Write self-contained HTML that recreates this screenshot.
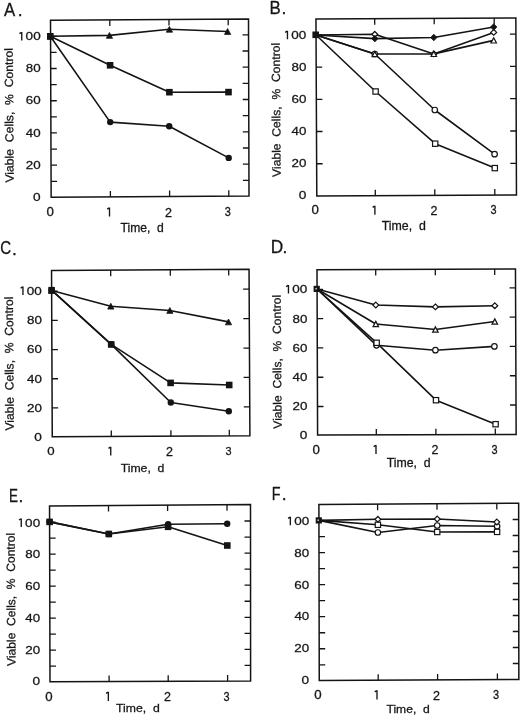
<!DOCTYPE html>
<html><head><meta charset="utf-8"><title>Figure</title><style>
html,body{margin:0;padding:0;background:#fff;}
body{width:520px;height:715px;overflow:hidden;}
svg{display:block;will-change:transform;}
text{font-family:"Liberation Sans", sans-serif;fill:#161616;stroke:#161616;stroke-width:0.28px;}
.pl{font-size:17.5px;}
.tk{font-size:12.2px;}
.ti{font-size:12.0px;}
.yt{font-size:12.2px;}
</style></head><body>
<svg width="520" height="715" viewBox="0 0 520 715">
<rect width="520" height="715" fill="#fff"/>
<g><path d="M50.5 20.3L248.5 19L249 196L51.15 197.25Z" fill="none" stroke="#141414" stroke-width="1.5" stroke-linejoin="miter"/><path d="M51.091 181.29h6M51.032 165.18h6M50.973 149.07h6M50.914 132.96h6M50.855 116.85h6M50.795 100.74h6M50.736 84.63h6M50.677 68.52h6M50.618 52.41h6M50.559 36.3h6M248.956 180.333h-6M248.91 164.166h-6M248.864 147.999h-6M248.819 131.832h-6M248.773 115.665h-6M248.727 99.498h-6M248.682 83.331h-6M248.636 67.164h-6M248.59 50.997h-6M248.545 34.83h-6M110.4 196.876v-6M109.8 19.911v6M169.6 196.502v-6M169 19.522v6M228.8 196.128v-6M228.2 19.133v6" stroke="#141414" stroke-width="1.3" fill="none"/><path d="M50.3 36.3L109.45 35.4L169.4 29.3L227.6 31.5" stroke="#141414" stroke-width="1.6" fill="none" stroke-linejoin="round"/><path d="M50.3 36.3L110.2 122.1L169.2 126.2L228.7 157.9" stroke="#141414" stroke-width="1.6" fill="none" stroke-linejoin="round"/><path d="M50.3 36.3L110.1 65.3L169.4 92.2L228.5 92.1" stroke="#141414" stroke-width="1.6" fill="none" stroke-linejoin="round"/><path d="M50.3 33.4L53.4 39.2L47.2 39.2Z" fill="#141414" stroke="#141414" stroke-width="0.8" stroke-linejoin="round"/><path d="M109.45 32.5L112.55 38.3L106.35 38.3Z" fill="#141414" stroke="#141414" stroke-width="0.8" stroke-linejoin="round"/><path d="M169.4 26.4L172.5 32.2L166.3 32.2Z" fill="#141414" stroke="#141414" stroke-width="0.8" stroke-linejoin="round"/><path d="M227.6 28.6L230.7 34.4L224.5 34.4Z" fill="#141414" stroke="#141414" stroke-width="0.8" stroke-linejoin="round"/><circle cx="50.3" cy="36.3" r="3.2" fill="#141414"/><circle cx="110.2" cy="122.1" r="3.2" fill="#141414"/><circle cx="169.2" cy="126.2" r="3.2" fill="#141414"/><circle cx="228.7" cy="157.9" r="3.2" fill="#141414"/><rect x="47" y="33" width="6.6" height="6.6" fill="#141414"/><rect x="106.8" y="62" width="6.6" height="6.6" fill="#141414"/><rect x="166.1" y="88.9" width="6.6" height="6.6" fill="#141414"/><rect x="225.2" y="88.8" width="6.6" height="6.6" fill="#141414"/><text transform="matrix(0.962 0 0 1.02 4 15.7)" class="pl">A</text><text x="17.7" y="15.7" class="pl">.</text><text transform="matrix(1.12 0 0 0.956 33.02 200.661)" class="tk">0</text><text transform="matrix(1.098 0 0 0.956 25.751 168.601)" class="tk">20</text><text transform="matrix(1.092 0 0 0.956 25.827 136.541)" class="tk">40</text><text transform="matrix(1.098 0 0 0.956 25.751 104.481)" class="tk">60</text><text transform="matrix(1.098 0 0 0.956 25.751 72.421)" class="tk">80</text><path d="M21.75 32.1V40.6M21.55 32.45L19.45 33.7" stroke="#161616" stroke-width="1.35" fill="none" stroke-linecap="butt"/><text transform="matrix(1.108 0 0 0.956 25.623 40.361)" class="tk">00</text><text transform="matrix(1.088 0 0 0.978 46.428 216.256)" class="tk">0</text><path d="M109.5 207.6V216.5M109.3 207.95L107.2 209.2" stroke="#161616" stroke-width="1.35" fill="none" stroke-linecap="butt"/><text transform="matrix(1.026 0 0 1.006 165.087 216.5)" class="tk">2</text><text transform="matrix(0.896 0 0 0.978 224.826 216.256)" class="tk">3</text><text transform="matrix(1.01 0 0 0.994 120.548 231.8)" class="ti">Time,&#160; d</text><g transform="rotate(-0.38 8.875 115.7)"><text transform="matrix(0 -0.999 0.972 0 13.25 115.325)" class="yt" text-anchor="middle">Viable&#160; Cells,&#160; %&#160; Control</text></g></g>
<g><path d="M315.96 18.96L515.85 17.9L516.46 195L316.8 195.9Z" fill="none" stroke="#141414" stroke-width="1.5" stroke-linejoin="miter"/><path d="M316.647 163.76h6M316.494 131.52h6M316.341 99.28h6M316.188 67.04h6M316.035 34.8h6M516.351 163.3h-6M516.24 131h-6M516.128 98.7h-6M516.017 66.4h-6M515.906 34.1h-6M375.3 195.636v-6M374.7 18.649v6M434.8 195.368v-6M434.2 18.333v6M494.8 195.098v-6M494.2 18.015v6" stroke="#141414" stroke-width="1.3" fill="none"/><path d="M316 35L375.6 91.5L435.2 143.7L494.8 168.1" stroke="#141414" stroke-width="1.6" fill="none" stroke-linejoin="round"/><path d="M316 35L374.8 54L434.8 110L494.6 154.2" stroke="#141414" stroke-width="1.6" fill="none" stroke-linejoin="round"/><path d="M316 35L374.8 34.3L433.8 53.9L493.7 32.4" stroke="#141414" stroke-width="1.6" fill="none" stroke-linejoin="round"/><path d="M316 35L374.8 54L433.8 53.9L493.7 40.4" stroke="#141414" stroke-width="1.6" fill="none" stroke-linejoin="round"/><path d="M316 35L374.8 38.6L433.8 37.5L493.7 27" stroke="#141414" stroke-width="1.6" fill="none" stroke-linejoin="round"/><rect x="372.95" y="88.85" width="5.3" height="5.3" fill="#fff" stroke="#141414" stroke-width="1.2"/><rect x="432.55" y="141.05" width="5.3" height="5.3" fill="#fff" stroke="#141414" stroke-width="1.2"/><rect x="492.15" y="165.45" width="5.3" height="5.3" fill="#fff" stroke="#141414" stroke-width="1.2"/><circle cx="374.8" cy="54" r="2.75" fill="#fff" stroke="#141414" stroke-width="1.2"/><circle cx="434.8" cy="110" r="2.75" fill="#fff" stroke="#141414" stroke-width="1.2"/><circle cx="494.6" cy="154.2" r="2.75" fill="#fff" stroke="#141414" stroke-width="1.2"/><path d="M374.8 31.45L377.75 34.3L374.8 37.15L371.85 34.3Z" fill="#fff" stroke="#141414" stroke-width="1.2"/><path d="M433.8 51.05L436.75 53.9L433.8 56.75L430.85 53.9Z" fill="#fff" stroke="#141414" stroke-width="1.2"/><path d="M493.7 29.55L496.65 32.4L493.7 35.25L490.75 32.4Z" fill="#fff" stroke="#141414" stroke-width="1.2"/><path d="M374.8 51.4L377.55 56.6L372.05 56.6Z" fill="#fff" stroke="#141414" stroke-width="1.2"/><path d="M433.8 51.3L436.55 56.5L431.05 56.5Z" fill="#fff" stroke="#141414" stroke-width="1.2"/><path d="M493.7 37.8L496.45 43L490.95 43Z" fill="#fff" stroke="#141414" stroke-width="1.2"/><path d="M374.8 35.3L378 38.6L374.8 41.9L371.6 38.6Z" fill="#141414" stroke="#141414" stroke-width="0.8"/><path d="M433.8 34.2L437 37.5L433.8 40.8L430.6 37.5Z" fill="#141414" stroke="#141414" stroke-width="0.8"/><path d="M493.7 23.7L496.9 27L493.7 30.3L490.5 27Z" fill="#141414" stroke="#141414" stroke-width="0.8"/><rect x="312.4" y="31.5" width="6.6" height="6.6" fill="#141414"/><text transform="matrix(0.964 0 0 1.02 269.595 13.7)" class="pl">B</text><text x="281.45" y="13.7" class="pl">.</text><text transform="matrix(1.12 0 0 0.956 298.72 199.061)" class="tk">0</text><text transform="matrix(1.098 0 0 0.956 291.451 167.061)" class="tk">20</text><text transform="matrix(1.092 0 0 0.956 291.527 135.061)" class="tk">40</text><text transform="matrix(1.098 0 0 0.956 291.451 103.061)" class="tk">60</text><text transform="matrix(1.098 0 0 0.956 291.451 71.061)" class="tk">80</text><path d="M287.45 30.8V39.3M287.25 31.15L285.15 32.4" stroke="#161616" stroke-width="1.35" fill="none" stroke-linecap="butt"/><text transform="matrix(1.108 0 0 0.956 291.323 39.061)" class="tk">00</text><text transform="matrix(1.088 0 0 0.978 311.528 214.456)" class="tk">0</text><path d="M374.9 205.8V214.7M374.7 206.15L372.6 207.4" stroke="#161616" stroke-width="1.35" fill="none" stroke-linecap="butt"/><text transform="matrix(1.026 0 0 1.006 430.437 214.7)" class="tk">2</text><text transform="matrix(0.896 0 0 0.978 490.476 214.456)" class="tk">3</text><text transform="matrix(1.03 0 0 1.006 381.743 229.6)" class="ti">Time,&#160; d</text><g transform="rotate(-0.38 275.875 110.3)"><text transform="matrix(0 -0.996 0.972 0 280.25 109.927)" class="yt" text-anchor="middle">Viable&#160; Cells,&#160; %&#160; Control</text></g></g>
<g><path d="M51.54 270.6L249.04 269.3L249.9 435.7L52.26 436.8Z" fill="none" stroke="#141414" stroke-width="1.5" stroke-linejoin="miter"/><path d="M52.135 407.91h6M52.009 378.75h6M51.882 349.59h6M51.756 320.43h6M51.63 291.27h6M249.751 406.88h-6M249.599 377.46h-6M249.447 348.04h-6M249.295 318.62h-6M249.143 289.2h-6M111.3 436.471v-6M110.7 270.211v6M170.9 436.14v-6M170.3 269.818v6M229.3 435.815v-6M228.7 269.434v6" stroke="#141414" stroke-width="1.3" fill="none"/><path d="M51.6 290.5L110.8 306.2L169.85 310.45L228.5 321.9" stroke="#141414" stroke-width="1.6" fill="none" stroke-linejoin="round"/><path d="M51.6 290.2L111.2 344.4L170.8 402.5L228.8 411.3" stroke="#141414" stroke-width="1.6" fill="none" stroke-linejoin="round"/><path d="M51.6 290.2L111.2 344.4L170.6 382.9L229.2 385" stroke="#141414" stroke-width="1.6" fill="none" stroke-linejoin="round"/><path d="M51.6 287.6L54.7 293.4L48.5 293.4Z" fill="#141414" stroke="#141414" stroke-width="0.8" stroke-linejoin="round"/><path d="M110.8 303.3L113.9 309.1L107.7 309.1Z" fill="#141414" stroke="#141414" stroke-width="0.8" stroke-linejoin="round"/><path d="M169.85 307.55L172.95 313.35L166.75 313.35Z" fill="#141414" stroke="#141414" stroke-width="0.8" stroke-linejoin="round"/><path d="M228.5 319L231.6 324.8L225.4 324.8Z" fill="#141414" stroke="#141414" stroke-width="0.8" stroke-linejoin="round"/><circle cx="51.6" cy="290.2" r="3.2" fill="#141414"/><circle cx="111.2" cy="344.4" r="3.2" fill="#141414"/><circle cx="170.8" cy="402.5" r="3.2" fill="#141414"/><circle cx="228.8" cy="411.3" r="3.2" fill="#141414"/><rect x="48.3" y="286.9" width="6.6" height="6.6" fill="#141414"/><rect x="107.9" y="341.1" width="6.6" height="6.6" fill="#141414"/><rect x="167.3" y="379.6" width="6.6" height="6.6" fill="#141414"/><rect x="225.9" y="381.7" width="6.6" height="6.6" fill="#141414"/><text transform="matrix(0.862 0 0 1.08 0.353 254.43)" class="pl">C</text><text x="11.95" y="254.7" class="pl">.</text><text transform="matrix(1.12 0 0 0.956 34.22 441.061)" class="tk">0</text><text transform="matrix(1.098 0 0 0.956 26.951 411.791)" class="tk">20</text><text transform="matrix(1.092 0 0 0.956 27.027 382.521)" class="tk">40</text><text transform="matrix(1.098 0 0 0.956 26.951 353.251)" class="tk">60</text><text transform="matrix(1.098 0 0 0.956 26.951 323.981)" class="tk">80</text><path d="M22.95 286.45V294.95M22.75 286.8L20.65 288.05" stroke="#161616" stroke-width="1.35" fill="none" stroke-linecap="butt"/><text transform="matrix(1.108 0 0 0.956 26.823 294.711)" class="tk">00</text><text transform="matrix(1.088 0 0 0.967 47.328 455.258)" class="tk">0</text><path d="M110.75 446.7V455.5M110.55 447.05L108.45 448.3" stroke="#161616" stroke-width="1.35" fill="none" stroke-linecap="butt"/><text transform="matrix(1.026 0 0 0.994 166.037 455.5)" class="tk">2</text><text transform="matrix(0.896 0 0 0.967 225.476 455.258)" class="tk">3</text><text transform="matrix(1.021 0 0 0.96 120.645 472)" class="ti">Time,&#160; d</text><g transform="rotate(-0.38 8.95 363.95)"><text transform="matrix(0 -0.995 0.989 0 13.4 363.577)" class="yt" text-anchor="middle">Viable&#160; Cells,&#160; %&#160; Control</text></g></g>
<g><path d="M317 269.8L515.46 269.04L516.15 434.4L317.6 435.1Z" fill="none" stroke="#141414" stroke-width="1.5" stroke-linejoin="miter"/><path d="M317.496 406.504h6M317.39 377.238h6M317.284 347.972h6M317.178 318.706h6M317.071 289.44h6M516.027 405.02h-6M515.905 375.74h-6M515.783 346.46h-6M515.661 317.18h-6M515.539 287.9h-6M376.3 434.893v-6M375.7 269.575v6M435.9 434.683v-6M435.3 269.347v6M495.3 434.474v-6M494.7 269.12v6" stroke="#141414" stroke-width="1.3" fill="none"/><path d="M317 289L376.5 345.3L435.4 350.2L494.4 346.4" stroke="#141414" stroke-width="1.6" fill="none" stroke-linejoin="round"/><path d="M317 289L376.65 342.8L436 400.2L495.6 424.2" stroke="#141414" stroke-width="1.6" fill="none" stroke-linejoin="round"/><path d="M317 289L375.8 324L435.4 329.5L494.8 321.5" stroke="#141414" stroke-width="1.6" fill="none" stroke-linejoin="round"/><path d="M317 289L375.8 305L435.4 306.9L494.8 305.7" stroke="#141414" stroke-width="1.6" fill="none" stroke-linejoin="round"/><circle cx="376.5" cy="345.3" r="2.75" fill="#fff" stroke="#141414" stroke-width="1.2"/><circle cx="435.4" cy="350.2" r="2.75" fill="#fff" stroke="#141414" stroke-width="1.2"/><circle cx="494.4" cy="346.4" r="2.75" fill="#fff" stroke="#141414" stroke-width="1.2"/><rect x="374" y="340.15" width="5.3" height="5.3" fill="#fff" stroke="#141414" stroke-width="1.2"/><rect x="433.35" y="397.55" width="5.3" height="5.3" fill="#fff" stroke="#141414" stroke-width="1.2"/><rect x="492.95" y="421.55" width="5.3" height="5.3" fill="#fff" stroke="#141414" stroke-width="1.2"/><path d="M375.8 321.4L378.55 326.6L373.05 326.6Z" fill="#fff" stroke="#141414" stroke-width="1.2"/><path d="M435.4 326.9L438.15 332.1L432.65 332.1Z" fill="#fff" stroke="#141414" stroke-width="1.2"/><path d="M494.8 318.9L497.55 324.1L492.05 324.1Z" fill="#fff" stroke="#141414" stroke-width="1.2"/><path d="M375.8 302.15L378.75 305L375.8 307.85L372.85 305Z" fill="#fff" stroke="#141414" stroke-width="1.2"/><path d="M435.4 304.05L438.35 306.9L435.4 309.75L432.45 306.9Z" fill="#fff" stroke="#141414" stroke-width="1.2"/><path d="M494.8 302.85L497.75 305.7L494.8 308.55L491.85 305.7Z" fill="#fff" stroke="#141414" stroke-width="1.2"/><rect x="313.6" y="285.8" width="6.2" height="6.2" fill="#141414"/><circle cx="316.1" cy="288.7" r="0.9" fill="#bbb"/><text transform="matrix(0.986 0 0 1.053 270.767 252.8)" class="pl">D</text><text x="282.55" y="252.8" class="pl">.</text><text transform="matrix(1.12 0 0 0.956 299.72 439.461)" class="tk">0</text><text transform="matrix(1.098 0 0 0.956 292.451 410.221)" class="tk">20</text><text transform="matrix(1.092 0 0 0.956 292.527 380.981)" class="tk">40</text><text transform="matrix(1.098 0 0 0.956 292.451 351.741)" class="tk">60</text><text transform="matrix(1.098 0 0 0.956 292.451 322.501)" class="tk">80</text><path d="M288.45 285V293.5M288.25 285.35L286.15 286.6" stroke="#161616" stroke-width="1.35" fill="none" stroke-linecap="butt"/><text transform="matrix(1.108 0 0 0.956 292.323 293.261)" class="tk">00</text><text transform="matrix(1.088 0 0 0.978 312.528 453.656)" class="tk">0</text><path d="M376 445V453.9M375.8 445.35L373.7 446.6" stroke="#161616" stroke-width="1.35" fill="none" stroke-linecap="butt"/><text transform="matrix(1.026 0 0 1.006 431.537 453.9)" class="tk">2</text><text transform="matrix(0.896 0 0 0.978 491.526 453.656)" class="tk">3</text><text transform="matrix(1.026 0 0 0.994 386.743 467)" class="ti">Time,&#160; d</text><g transform="rotate(-0.38 276.825 362.15)"><text transform="matrix(0 -0.995 0.972 0 281.2 361.777)" class="yt" text-anchor="middle">Viable&#160; Cells,&#160; %&#160; Control</text></g></g>
<g><path d="M49.54 505.9L250.5 504.5L250.6 680.9L50 681.85Z" fill="none" stroke="#141414" stroke-width="1.5" stroke-linejoin="miter"/><path d="M49.959 666.19h6M49.917 650.18h6M49.875 634.17h6M49.833 618.16h6M49.792 602.15h6M49.75 586.14h6M49.708 570.13h6M49.666 554.12h6M49.624 538.11h6M49.582 522.1h6M250.591 665.45h-6M250.582 649.4h-6M250.573 633.35h-6M250.564 617.3h-6M250.555 601.25h-6M250.546 585.2h-6M250.537 569.15h-6M250.528 553.1h-6M250.518 537.05h-6M250.509 521h-6M109.1 681.57v-6M108.5 505.489v6M168.2 681.29v-6M167.6 505.078v6M227.6 681.009v-6M227 504.664v6" stroke="#141414" stroke-width="1.3" fill="none"/><path d="M49.6 521.9L108.8 534L168.1 524.2L227.2 523.8" stroke="#141414" stroke-width="1.6" fill="none" stroke-linejoin="round"/><path d="M49.6 521.9L108.8 534L168.1 526.8L227.3 545.5" stroke="#141414" stroke-width="1.6" fill="none" stroke-linejoin="round"/><circle cx="49.6" cy="521.9" r="3.2" fill="#141414"/><circle cx="108.8" cy="534" r="3.2" fill="#141414"/><circle cx="168.1" cy="524.2" r="3.2" fill="#141414"/><circle cx="227.2" cy="523.8" r="3.2" fill="#141414"/><rect x="46.3" y="518.6" width="6.6" height="6.6" fill="#141414"/><rect x="105.5" y="530.7" width="6.6" height="6.6" fill="#141414"/><rect x="164.8" y="523.5" width="6.6" height="6.6" fill="#141414"/><rect x="224" y="542.2" width="6.6" height="6.6" fill="#141414"/><text transform="matrix(0.769 0 0 1.069 8.938 502)" class="pl">E</text><text x="18.5" y="502" class="pl">.</text><text transform="matrix(1.12 0 0 0.956 32.52 685.261)" class="tk">0</text><text transform="matrix(1.098 0 0 0.956 25.251 653.541)" class="tk">20</text><text transform="matrix(1.092 0 0 0.956 25.327 621.821)" class="tk">40</text><text transform="matrix(1.098 0 0 0.956 25.251 590.101)" class="tk">60</text><text transform="matrix(1.098 0 0 0.956 25.251 558.381)" class="tk">80</text><path d="M21.25 518.4V526.9M21.05 518.75L18.95 520" stroke="#161616" stroke-width="1.35" fill="none" stroke-linecap="butt"/><text transform="matrix(1.108 0 0 0.956 25.123 526.661)" class="tk">00</text><text transform="matrix(1.088 0 0 1 45.128 700.65)" class="tk">0</text><path d="M108.35 691.8V700.9M108.15 692.15L106.05 693.4" stroke="#161616" stroke-width="1.35" fill="none" stroke-linecap="butt"/><text transform="matrix(1.026 0 0 1.029 163.937 700.9)" class="tk">2</text><text transform="matrix(0.896 0 0 1 223.426 700.65)" class="tk">3</text><text transform="matrix(1.019 0 0 0.983 116.045 711.8)" class="ti">Time,&#160; d</text><g transform="rotate(-0.38 10.675 599.8)"><text transform="matrix(0 -0.988 0.983 0 15.1 599.429)" class="yt" text-anchor="middle">Viable&#160; Cells,&#160; %&#160; Control</text></g></g>
<g><path d="M318.9 504.6L518.65 503.3L518.85 679.5L319.26 680.5Z" fill="none" stroke="#141414" stroke-width="1.5" stroke-linejoin="miter"/><path d="M319.228 664.775h6M319.195 648.75h6M319.162 632.725h6M319.129 616.7h6M319.097 600.675h6M319.064 584.65h6M319.031 568.625h6M318.998 552.6h6M318.965 536.575h6M318.933 520.55h6M518.832 663.5h-6M518.814 647.5h-6M518.796 631.5h-6M518.777 615.5h-6M518.759 599.5h-6M518.741 583.5h-6M518.723 567.5h-6M518.705 551.5h-6M518.687 535.5h-6M518.668 519.5h-6M378.2 680.205v-6M377.6 504.218v6M437.6 679.907v-6M437 503.831v6M497.4 679.607v-6M496.8 503.442v6" stroke="#141414" stroke-width="1.3" fill="none"/><path d="M318.95 520.4L377.9 532.5L437.2 525.5L497.1 526.3" stroke="#141414" stroke-width="1.6" fill="none" stroke-linejoin="round"/><path d="M318.95 520.4L377.9 524.8L437.2 532L497.1 531.9" stroke="#141414" stroke-width="1.6" fill="none" stroke-linejoin="round"/><path d="M318.95 520.4L377.9 519.3L437.2 519L496.8 522" stroke="#141414" stroke-width="1.6" fill="none" stroke-linejoin="round"/><circle cx="377.9" cy="532.5" r="2.75" fill="#fff" stroke="#141414" stroke-width="1.2"/><circle cx="437.2" cy="525.5" r="2.75" fill="#fff" stroke="#141414" stroke-width="1.2"/><circle cx="497.1" cy="526.3" r="2.75" fill="#fff" stroke="#141414" stroke-width="1.2"/><rect x="375.25" y="522.15" width="5.3" height="5.3" fill="#fff" stroke="#141414" stroke-width="1.2"/><rect x="434.55" y="529.35" width="5.3" height="5.3" fill="#fff" stroke="#141414" stroke-width="1.2"/><rect x="494.45" y="529.25" width="5.3" height="5.3" fill="#fff" stroke="#141414" stroke-width="1.2"/><path d="M377.9 516.45L380.85 519.3L377.9 522.15L374.95 519.3Z" fill="#fff" stroke="#141414" stroke-width="1.2"/><path d="M437.2 516.15L440.15 519L437.2 521.85L434.25 519Z" fill="#fff" stroke="#141414" stroke-width="1.2"/><path d="M496.8 519.15L499.75 522L496.8 524.85L493.85 522Z" fill="#fff" stroke="#141414" stroke-width="1.2"/><rect x="315.7" y="517.3" width="6.2" height="6.2" fill="#141414"/><circle cx="318.2" cy="520.2" r="0.9" fill="#bbb"/><text transform="matrix(0.822 0 0 1.037 271.672 499.9)" class="pl">F</text><text x="281.75" y="499.9" class="pl">.</text><text transform="matrix(1.12 0 0 0.956 301.62 684.061)" class="tk">0</text><text transform="matrix(1.098 0 0 0.956 294.351 652.261)" class="tk">20</text><text transform="matrix(1.092 0 0 0.956 294.427 620.461)" class="tk">40</text><text transform="matrix(1.098 0 0 0.956 294.351 588.661)" class="tk">60</text><text transform="matrix(1.098 0 0 0.956 294.351 556.861)" class="tk">80</text><path d="M290.35 516.8V525.3M290.15 517.15L288.05 518.4" stroke="#161616" stroke-width="1.35" fill="none" stroke-linecap="butt"/><text transform="matrix(1.108 0 0 0.956 294.223 525.061)" class="tk">00</text><text transform="matrix(1.088 0 0 1.022 314.328 699.344)" class="tk">0</text><path d="M377 690.3V699.6M376.8 690.65L374.7 691.9" stroke="#161616" stroke-width="1.35" fill="none" stroke-linecap="butt"/><text transform="matrix(1.026 0 0 1.051 433.037 699.6)" class="tk">2</text><text transform="matrix(0.896 0 0 1.022 492.976 699.344)" class="tk">3</text><text transform="matrix(1.01 0 0 0.971 386.448 712.7)" class="ti">Time,&#160; d</text></g>
</svg></body></html>
